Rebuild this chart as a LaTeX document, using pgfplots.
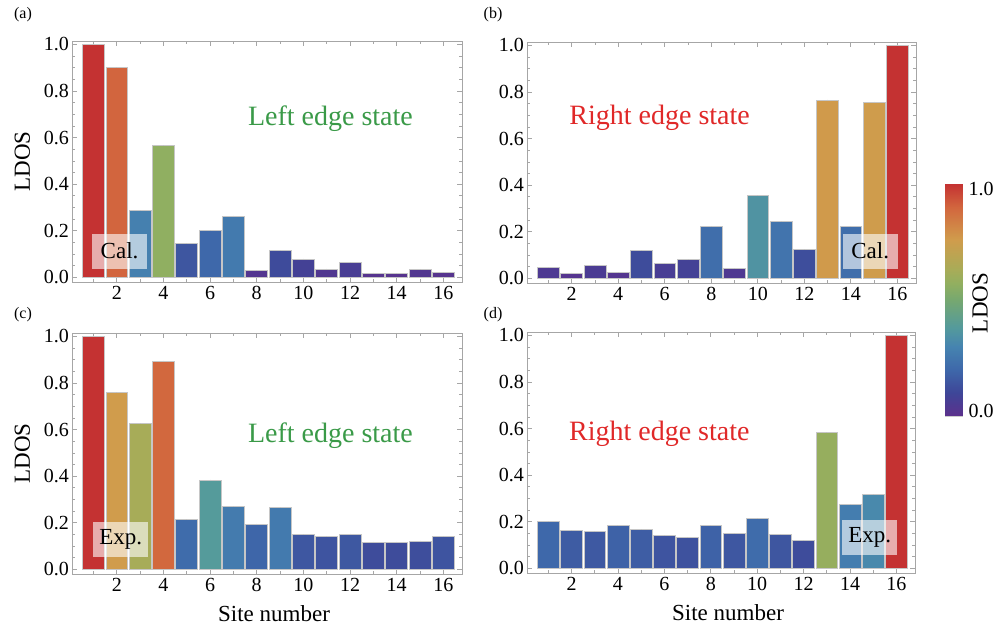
\documentclass[border=0pt]{standalone}
\usepackage{fontspec}
\setmainfont{Liberation Serif}
\usepackage{pgfplots}
\pgfplotsset{compat=1.18}

\definecolor{leftgreen}{RGB}{58,154,72}
\definecolor{rightred}{RGB}{224,40,40}

\tikzset{
  tagbox/.style={fill=white, fill opacity=0.6, text opacity=1,
    minimum width=27.5pt, minimum height=17.5pt, inner sep=0pt,
    font=\fontsize{11.5}{13}\selectfont},
}

\pgfplotsset{
  colormap={ldos}{
    rgb255(0)=(92,48,140)
    rgb255(0.1)=(62,70,152)
    rgb255(0.2)=(62,104,170)
    rgb255(0.3)=(70,132,176)
    rgb255(0.38)=(84,154,156)
    rgb255(0.5)=(118,168,112)
    rgb255(0.57)=(145,175,96)
    rgb255(0.63)=(168,172,88)
    rgb255(0.76)=(208,156,76)
    rgb255(0.9)=(210,102,62)
    rgb255(1)=(196,50,50)
  },
  panel/.style={
    scale only axis,
    width=195pt, height=120.5pt,
    anchor=south west,
    xmin=0.08, xmax=16.8,
    ymin=-0.02, ymax=1.015,
    xtick={2,4,...,16},
    minor xtick={1,3,...,15},
    ytick={0,0.2,...,1.0},
    minor y tick num=3,
    /pgf/number format/assume math mode=true,
    tick label style={font=\fontsize{10}{12}\selectfont},
    xticklabel style={yshift=1.5pt},
    yticklabel style={xshift=2pt, /pgf/number format/.cd, fixed, fixed zerofill, precision=1},
    label style={font=\fontsize{11.5}{13}\selectfont},
    xlabel style={xshift=3.5pt},
    axis line style={gray!70},
    tick style={gray!70, thin},
    major tick length=2.5pt, minor tick length=1.5pt,
    tick align=inside,
    colormap name=ldos,
    point meta min=0, point meta max=1,
  },
  % each point drawn as a bar from the baseline, filled by its mapped colour
  ldosbars/.style={
    only marks, mark=*, mark size=0pt,
    point meta=y,
    visualization depends on={y \as \rawy},
    scatter,
    scatter/@pre marker code/.code={%
      \pgfplotscolormapdefinemappedcolor{\pgfplotspointmetatransformed}%
      \fill[mapped color, draw=gray!45, line width=0.3pt]
        (axis direction cs:-0.47,0) rectangle (axis direction cs:0.47,-\rawy);
    },
    scatter/@post marker code/.code={},
  },
}

\begin{document}
\begin{tikzpicture}
\useasboundingbox (0,0) rectangle (498pt,313pt);

% (a)
\begin{axis}[panel, at={(36pt,172pt)}, ylabel={LDOS}]
\addplot[ldosbars] coordinates {
(1,1.0) (2,0.901) (3,0.287) (4,0.567) (5,0.146) (6,0.201) (7,0.264) (8,0.029)
(9,0.116) (10,0.079) (11,0.036) (12,0.064) (13,0.019) (14,0.016) (15,0.033) (16,0.020)};
\node[text=leftgreen, font=\fontsize{14}{16}\selectfont] at (axis cs:11.16,0.68) {Left edge state};
\coordinate (tagA) at (axis cs:2.12,0.113);
\end{axis}
\node[tagbox] at (tagA) {Cal.};

% (b)
\begin{axis}[panel, at={(263.5pt,171.5pt)}, width=194.5pt]
\addplot[ldosbars] coordinates {
(1,0.046) (2,0.023) (3,0.056) (4,0.026) (5,0.119) (6,0.064) (7,0.080) (8,0.222)
(9,0.043) (10,0.355) (11,0.244) (12,0.123) (13,0.766) (14,0.222) (15,0.758) (16,1.0)};
\node[text=rightred, font=\fontsize{14}{16}\selectfont] at (axis cs:5.78,0.69) {Right edge state};
\coordinate (tagB) at (axis cs:14.83,0.117);
\end{axis}
\node[tagbox] at (tagB) {Cal.};

% (c)
\begin{axis}[panel, at={(36pt,26pt)}, ylabel={LDOS}, xlabel={Site number}]
\addplot[ldosbars] coordinates {
(1,1.0) (2,0.761) (3,0.626) (4,0.895) (5,0.213) (6,0.384) (7,0.269) (8,0.195)
(9,0.266) (10,0.149) (11,0.142) (12,0.152) (13,0.118) (14,0.118) (15,0.122) (16,0.142)};
\node[text=leftgreen, font=\fontsize{14}{16}\selectfont] at (axis cs:11.16,0.573) {Left edge state};
\coordinate (tagC) at (axis cs:2.17,0.129);
\end{axis}
\node[tagbox] at (tagC) {Exp.};

% (d)
\begin{axis}[panel, at={(263.5pt,26.5pt)}, width=194pt, xlabel={Site number}]
\addplot[ldosbars] coordinates {
(1,0.200) (2,0.164) (3,0.157) (4,0.184) (5,0.167) (6,0.142) (7,0.134) (8,0.184)
(9,0.150) (10,0.214) (11,0.147) (12,0.119) (13,0.583) (14,0.276) (15,0.318) (16,1.0)};
\node[text=rightred, font=\fontsize{14}{16}\selectfont] at (axis cs:5.78,0.578) {Right edge state};
\coordinate (tagD) at (axis cs:14.85,0.134);
\end{axis}
\node[tagbox] at (tagD) {Exp.};

% colour bar
\begin{axis}[scale only axis, at={(472.5pt,105pt)}, anchor=south west,
  width=8.5pt, height=116pt,
  xmin=0, xmax=1, ymin=0, ymax=1,
  xtick=\empty, ytick={0.2,0.4,0.6,0.8}, yticklabels={},
  tick pos=right, tick align=inside, major tick length=2pt,
  tick style={gray!70, thin},
  axis line style={gray!40},
  colormap name=ldos, point meta min=0, point meta max=1,
  clip=false]
\addplot[surf, shader=interp, point meta=y] coordinates {
(0,0) (1,0)

(0,1) (1,1)};
\node[anchor=north west, font=\fontsize{10}{12}\selectfont, inner sep=1pt] at (axis cs:1.25,1.02) {1.0};
\node[anchor=south west, font=\fontsize{10}{12}\selectfont, inner sep=1pt] at (axis cs:1.25,-0.02) {0.0};
\end{axis}
\node[rotate=90, font=\fontsize{11.5}{13}\selectfont] at (490pt,161.5pt) {LDOS};

\node[font=\fontsize{8}{10}\selectfont] at (11.5pt,305.5pt) {(a)};
\node[font=\fontsize{8}{10}\selectfont] at (246.5pt,305.5pt) {(b)};
\node[font=\fontsize{8}{10}\selectfont] at (11.5pt,155.5pt) {(c)};
\node[font=\fontsize{8}{10}\selectfont] at (246.5pt,155.5pt) {(d)};
\end{tikzpicture}
\end{document}
